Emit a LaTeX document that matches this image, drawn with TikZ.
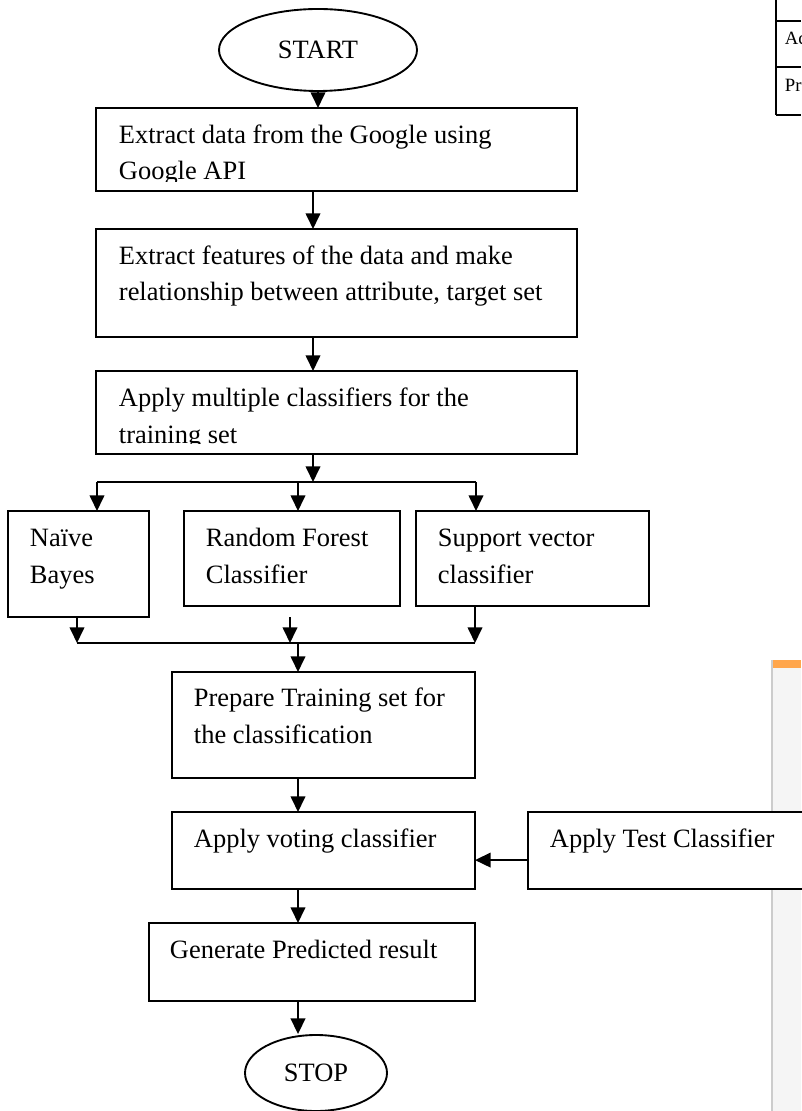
\documentclass[tikz,border=0pt]{standalone}
\usepackage{fontspec}
\setmainfont{Liberation Serif}
\usetikzlibrary{arrows.meta}
\usetikzlibrary{shapes.geometric}
\usetikzlibrary{positioning}

\begin{document}
\begin{tikzpicture}[x=0.48pt, y=-0.48pt, line width=0.9pt]
    \tikzset{box/.style = {shape=rectangle,draw,fill=white,inner sep=0pt,outer sep=0pt,anchor=north west}}
    \tikzset{boxsize/.style 2 args = {minimum width=#1*0.48pt,minimum height=#2*0.48pt}}
    \tikzset{oval/.style = {shape=ellipse,draw,inner sep=0pt,font=\fontsize{12.7}{17.3}\selectfont}}
    \tikzset{txt/.style = {anchor=base west,inner sep=0pt,align=left,font=\fontsize{12.7}{17.3}\selectfont}}
    \tikzset{edge/.style = {-{Triangle[length=7.5pt,width=7pt]}}}
    \useasboundingbox (0,0) rectangle (801,1111);

    % other figures cut by the page
    \draw[line width=0.5pt] (776,0) -- (776,115);
    \foreach \y in {21,67,115} \draw[line width=0.5pt] (776,\y) -- (801,\y);
    \node[txt,font=\fontsize{9}{11}\selectfont] (acc) at (784,45) {Ac};
    \node[txt,font=\fontsize{9}{11}\selectfont] (pre) at (784,92) {Pr};
    \fill[gray!8] (772,660) rectangle (801,1111);
    \fill[orange!70] (772,660) rectangle (801,668);
    \draw[gray!40,line width=0.5pt] (772,660) -- (772,1111);

    % vertices
    \node[oval,minimum width=198*0.48pt,minimum height=82*0.48pt] (start) at (318,50) {START};
    \node[box,boxsize={481}{83}] (extract) at (96,108) {};
    \node[box,boxsize={481}{108}] (features) at (96,229) {};
    \node[box,boxsize={481}{83}] (apply) at (96,371) {};
    \node[box,boxsize={141}{106}] (bayes) at (8,511) {};
    \node[box,boxsize={216}{95}] (forest) at (184,511) {};
    \node[box,boxsize={233}{95}] (svc) at (416,511) {};
    \node[box,boxsize={303}{106}] (prepare) at (172,672) {};
    \node[box,boxsize={303}{77}] (voting) at (172,812) {};
    \node[box,boxsize={300}{77}] (testclf) at (528,812) {};
    \node[box,boxsize={326}{78}] (generate) at (149,923) {};
    \node[oval,minimum width=142*0.48pt,minimum height=76*0.48pt] (stop) at (316,1073) {STOP};

    % texts (base is the last line)
    \begin{scope}
      \clip (96,108) rectangle (577,182);
      \node[txt] (t1) at ([shift={(22,72)}]extract.north west) {Extract data from the Google using\\Google API};
    \end{scope}
    \node[txt] (t2) at ([shift={(22,72)}]features.north west) {Extract features of the data and make\\relationship between attribute, target set};
    \begin{scope}
      \clip (96,371) rectangle (577,443);
      \node[txt] (t3) at ([shift={(22,72)}]apply.north west) {Apply multiple classifiers for the\\training set};
    \end{scope}
    \node[txt] (t4) at ([shift={(21,72)}]bayes.north west) {Naïve\\Bayes};
    \node[txt] (t5) at ([shift={(21,72)}]forest.north west) {Random Forest\\Classifier};
    \node[txt] (t6) at ([shift={(21,72)}]svc.north west) {Support vector\\classifier};
    \node[txt] (t7) at ([shift={(21,71)}]prepare.north west) {Prepare Training set for\\the classification};
    \node[txt] (t8) at ([shift={(21,35)}]voting.north west) {Apply voting classifier};
    \node[txt] (t9) at ([shift={(21,35)}]testclf.north west) {Apply Test Classifier};
    \node[txt] (t10) at ([shift={(20,35)}]generate.north west) {Generate Predicted result};

    % joints
    \coordinate (top) at (313,0);
    \coordinate (splitL) at (97,482);
    \coordinate (splitM) at (298,482);
    \coordinate (splitR) at (476,482);
    \coordinate (joinL) at (77,643);
    \coordinate (joinM) at (290,643);
    \coordinate (joinR) at (475,643);
    \coordinate (join) at (298,643);

    % edges
    \draw[edge] (start) -- (start |- extract.north);
    \draw[edge] (top |- extract.south) -- (top |- features.north);
    \draw[edge] (top |- features.south) -- (top |- apply.north);
    \draw[edge] (top |- apply.south) -- (top |- splitM);
    \draw (splitL) -- (splitR);
    \draw[edge] (splitL) -- (splitL |- bayes.north);
    \draw[edge] (splitM) -- (splitM |- forest.north);
    \draw[edge] (splitR) -- (splitR |- svc.north);
    \draw[edge] (joinL |- bayes.south) -- (joinL);
    \draw[edge] ([yshift=-5.3pt]joinM |- forest.south) -- (joinM);
    \draw[edge] (joinR |- svc.south) -- (joinR);
    \draw (joinL) -- (joinR);
    \draw[edge] (join) -- (join |- prepare.north);
    \draw[edge] (join |- prepare.south) -- (join |- voting.north);
    \draw[edge] ([yshift=-4.6pt]testclf.west) -- ([yshift=-4.6pt]voting.east);
    \draw[edge] (join |- voting.south) -- (join |- generate.north);
    \draw[edge] (join |- generate.south) -- (join |- stop.north);
\end{tikzpicture}
\end{document}
